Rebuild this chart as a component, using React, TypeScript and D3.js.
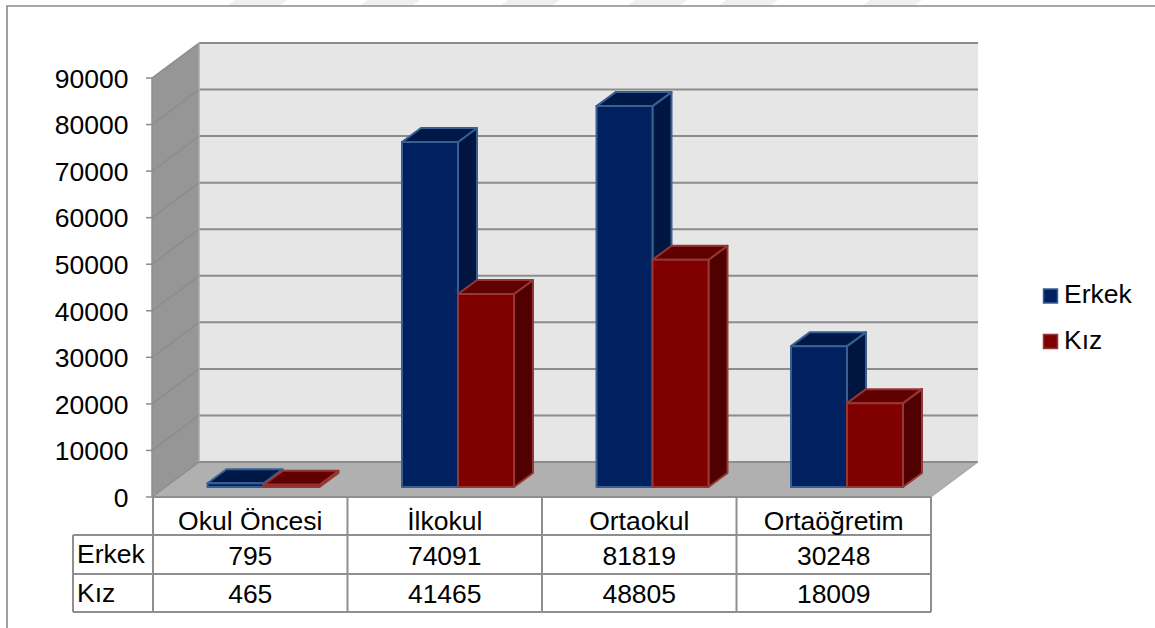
import React from "react";
import * as d3 from "d3";

const categories = ["Okul Öncesi", "İlkokul", "Ortaokul", "Ortaöğretim"];
const seriesNames = ["Erkek", "Kız"];
const erkek = [795, 74091, 81819, 30248];
const kiz = [465, 41465, 48805, 18009];
const yTicks = [0, 10000, 20000, 30000, 40000, 50000, 60000, 70000, 80000, 90000];
// top edge of the page has a faint watermark showing through
const watermark = [227, 360, 500, 627, 718, 862];

const fills = [
  { front: "#002060", top: "#001848", side: "#001540", line: "#376092" },
  { front: "#800000", top: "#600000", side: "#500000", line: "#953735" },
];

const width = 1155,
  height = 628;
const font = "'Liberation Sans', Arial, sans-serif";
const fontSize = 26.5;
const gridColor = "#8c8c8c";
const tableColor = "#8f8f8f";

const y = d3.scaleLinear().domain([0, 90000]).range([497, 78]);
const x = d3.scaleBand<string>().domain(categories).range([153, 931]);
const inner = d3.scaleBand<string>().domain(seriesNames).range([54.5, 166.5]);

// oblique projection for the walls and floor
const wallDx = 47,
  wallDy = -35;
// bars stand a little way in from the front of the floor
const barDy = -10;
const depthDx = 19,
  depthDy = -14;

const poly = d3.line<[number, number]>().x((d) => d[0]).y((d) => d[1]);
const closed = (pts: [number, number][]) => poly(pts) + "Z";

function Bar({ cat, name, value, color }: { cat: string; name: string; value: number; color: typeof fills[0] }) {
  const x0 = (x(cat) as number) + (inner(name) as number);
  const x1 = x0 + inner.bandwidth();
  const yb = y(0) + barDy;
  const yt = y(value) + barDy;
  const stroke = { stroke: color.line, strokeWidth: 2, strokeLinejoin: "round" as const };
  return (
    <g>
      <path d={closed([[x1, yt], [x1 + depthDx, yt + depthDy], [x1 + depthDx, yb + depthDy], [x1, yb]])} fill={color.side} {...stroke} />
      <path d={closed([[x0, yt], [x0 + depthDx, yt + depthDy], [x1 + depthDx, yt + depthDy], [x1, yt]])} fill={color.top} {...stroke} />
      <rect x={x0} y={yt} width={x1 - x0} height={yb - yt} fill={color.front} {...stroke} />
    </g>
  );
}

export default function App() {
  const x0 = 152;
  const xr = 931;
  const y0 = y(0);
  const yTop = y(90000);
  const cols = [x.range()[0], ...categories.map((c) => (x(c) as number) + x.bandwidth())];
  const rows = [497, 535, 574, 612];
  const tableLeft = 73;
  const rowText = [erkek, kiz];

  return (
    <svg
      width={width}
      height={height}
      style={{ position: "absolute", left: 0, top: 0, background: "#fff" }}
      fontFamily={font}
    >
      {watermark.map((d) => (
        <path key={d} d={closed([[d + 8, 0], [d + 60, 0], [d + 52, 6], [d, 6]])} fill="#efefef" />
      ))}
      {/* outer frame */}
      <path d={`M7,628V6H${width}`} fill="none" stroke="#8a8a8a" strokeWidth={1.6} />

      {/* walls and floor */}
      <path d={closed([[x0 + wallDx, yTop + wallDy], [xr + wallDx, yTop + wallDy], [xr + wallDx, y0 + wallDy], [x0 + wallDx, y0 + wallDy]])} fill="#e6e6e6" />
      <path d={closed([[x0, yTop], [x0 + wallDx, yTop + wallDy], [x0 + wallDx, y0 + wallDy], [x0, y0]])} fill="#969696" />
      <path d={closed([[x0, y0], [x0 + wallDx, y0 + wallDy], [xr + wallDx, y0 + wallDy], [xr, y0]])} fill="#b0b0b0" />

      {/* gridlines run along the side wall and the back wall */}
      {yTicks.map((t) => (
        <g key={t} fill="none" stroke={gridColor}>
          <path d={`M${x0},${y(t)}L${x0 + wallDx},${y(t) + wallDy}`} strokeWidth={1.5} />
          <path d={`M${x0 + wallDx},${y(t) + wallDy}H${xr + wallDx}`} strokeWidth={2} />
          <path d={`M${x0 - 6},${y(t)}H${x0}`} strokeWidth={1.5} />
        </g>
      ))}
      <path d={`M${x0 + wallDx},${yTop + wallDy}V${y0 + wallDy}`} stroke="#a8a8a8" strokeWidth={1.5} />
      <path d={`M${x0},${yTop}V${y0}`} stroke={gridColor} strokeWidth={1.5} />
      <path d={`M${xr},${y0}L${xr + wallDx},${y0 + wallDy}`} stroke="#a0a0a0" strokeWidth={1} />

      {/* bars */}
      {categories.map((c, i) => (
        <g key={c}>
          <Bar cat={c} name={seriesNames[0]} value={erkek[i]} color={fills[0]} />
          <Bar cat={c} name={seriesNames[1]} value={kiz[i]} color={fills[1]} />
        </g>
      ))}

      {/* y axis labels */}
      {yTicks.map((t) => (
        <text key={t} x={128.5} y={y(t)} dy="0.37em" textAnchor="end" fontSize={fontSize} fill="#000">
          {t}
        </text>
      ))}

      {/* data table */}
      <g stroke={tableColor} strokeWidth={2} fill="none">
        <path d={`M${cols[0]},${rows[0]}H${xr}`} />
        {rows.slice(1).map((r) => (
          <path key={r} d={`M${tableLeft},${r}H${xr}`} />
        ))}
        {cols.map((c) => (
          <path key={c} d={`M${c},${rows[0]}V${rows[3]}`} />
        ))}
        <path d={`M${tableLeft},${rows[1]}V${rows[3]}`} />
      </g>
      {categories.map((c, i) => (
        <g key={c} textAnchor="middle" fontSize={fontSize} fill="#000">
          <text x={(x(c) as number) + x.bandwidth() / 2} y={530}>{c}</text>
          <text x={(x(c) as number) + x.bandwidth() / 2} y={565}>{rowText[0][i]}</text>
          <text x={(x(c) as number) + x.bandwidth() / 2} y={603}>{rowText[1][i]}</text>
        </g>
      ))}
      {seriesNames.map((s, i) => (
        <text key={s} x={77} y={i === 0 ? 563 : 602} fontSize={fontSize} fill="#000">{s}</text>
      ))}

      {/* legend */}
      {seriesNames.map((s, i) => (
        <g key={s}>
          <rect x={1043.5} y={289 + i * 45.5} width={14} height={14} fill={fills[i].front} stroke={fills[i].line} strokeWidth={1.5} />
          <text x={1064} y={303 + i * 45.5} fontSize={fontSize} fill="#000">{s}</text>
        </g>
      ))}
    </svg>
  );
}
